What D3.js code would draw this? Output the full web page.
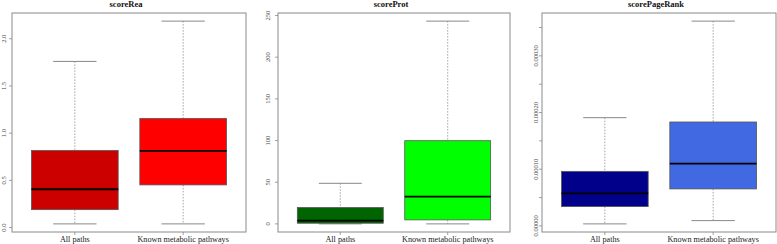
<!DOCTYPE html>
<html><head><meta charset="utf-8">
<script src="https://cdn.jsdelivr.net/npm/d3@7"></script>
<style>body{margin:0;background:#fff}svg{display:block}</style>
</head><body>
<svg id="c" width="777" height="244"></svg>
<script>
// ---- data ----
const categories = ["All paths", "Known metabolic pathways"];
const titles = ["scoreRea", "scoreProt", "scorePageRank"];
// [whiskerLow, q1, median, q3, whiskerHigh]
const scoreRea = [
  [0.039, 0.19, 0.406, 0.816, 1.76],
  [0.039, 0.452, 0.813, 1.155, 2.187]
];
const scoreProt = [
  [0.0, 0.8, 4.0, 19.6, 48.7],
  [0.0, 4.8, 32.8, 99.8, 243.3]
];
const scorePageRank = [
  [0.0000035, 0.000034, 0.0000575, 0.0000962, 0.0001909],
  [0.0000093, 0.0000652, 0.0001098, 0.0001833, 0.0003613]
];
const reaTicks = [0, 0.5, 1.0, 1.5, 2.0];
const reaLabels = ["0.0", "0.5", "1.0", "1.5", "2.0"];
const protTicks = [0, 50, 100, 150, 200, 250];
const protLabels = ["0", "50", "100", "150", "200", "250"];
const prTicks = [0, 0.00005, 0.0001, 0.00015, 0.0002, 0.00025, 0.0003, 0.00035];
const prLabels = ["0.00000", "", "0.00010", "", "0.00020", "", "0.00030", ""];
const colors = [["#cd0000", "#ff0000"], ["#006400", "#00ff00"], ["#00008b", "#4169e1"]];

const panels = [
  {title: titles[0], data: scoreRea, ticks: reaTicks, labels: reaLabels, col: colors[0], x0: 12, x1: 246, lx: 4},
  {title: titles[1], data: scoreProt, ticks: protTicks, labels: protLabels, col: colors[1], x0: 278, x1: 510, lx: 268},
  {title: titles[2], data: scorePageRank, ticks: prTicks, labels: prLabels, col: colors[2], x0: 542, x1: 776, lx: 536}
];
const yTop = 13, yBottom = 232;
const svg = d3.select("#c");
const font = "'Liberation Serif','Times New Roman',serif";

panels.forEach(p => {
  const lo = d3.min(p.data, d => d[0]), hi = d3.max(p.data, d => d[4]);
  const pad = (hi - lo) * 0.04;
  const y = d3.scaleLinear().domain([lo - pad, hi + pad]).range([yBottom, yTop]);
  const x = d3.scaleLinear().domain([0.42, 2.58]).range([p.x0, p.x1]);
  const g = svg.append("g");

  // frame
  g.append("rect").attr("x", p.x0).attr("y", yTop).attr("width", p.x1 - p.x0).attr("height", yBottom - yTop)
    .attr("fill", "none").attr("stroke", "#8a8a8a").attr("stroke-width", 1);

  // title
  g.append("text").attr("x", (p.x0 + p.x1) / 2 - 3).attr("y", 7).attr("text-anchor", "middle")
    .attr("font-family", font).attr("font-weight", "bold").attr("font-size", 8.5).attr("fill", "#111").text(p.title);

  // y axis
  p.ticks.forEach((t, i) => {
    g.append("line").attr("x1", p.x0 - 3).attr("x2", p.x0).attr("y1", y(t)).attr("y2", y(t))
      .attr("stroke", "#8a8a8a").attr("stroke-width", 0.8);
    if (p.labels[i]) {
      g.append("text").attr("transform", `translate(${p.lx + 2},${y(t)}) rotate(-90)`)
        .attr("text-anchor", "middle").attr("font-family", font).attr("font-size", 6.5).attr("fill", "#444")
        .text(p.labels[i]);
    }
  });

  // boxes
  p.data.forEach((d, i) => {
    const cx = x(i + 1), bw = 0.8 * (x(2) - x(1)), cw = 0.4 * (x(2) - x(1));
    g.append("line").attr("x1", cx).attr("x2", cx).attr("y1", y(d[4])).attr("y2", y(d[3]))
      .attr("stroke", "#999").attr("stroke-width", 0.9).attr("stroke-dasharray", "1.5,1.5");
    g.append("line").attr("x1", cx).attr("x2", cx).attr("y1", y(d[1])).attr("y2", y(d[0]))
      .attr("stroke", "#999").attr("stroke-width", 0.9).attr("stroke-dasharray", "1.5,1.5");
    [d[0], d[4]].forEach(v => g.append("line").attr("x1", cx - cw / 2).attr("x2", cx + cw / 2)
      .attr("y1", y(v)).attr("y2", y(v)).attr("stroke", "#888").attr("stroke-width", 1));
    g.append("rect").attr("x", cx - bw / 2).attr("y", y(d[3])).attr("width", bw).attr("height", y(d[1]) - y(d[3]))
      .attr("fill", p.col[i]).attr("stroke", "#555").attr("stroke-width", 0.8);
    g.append("line").attr("x1", cx - bw / 2).attr("x2", cx + bw / 2).attr("y1", y(d[2])).attr("y2", y(d[2]))
      .attr("stroke", "#000").attr("stroke-width", 1.8);
    g.append("line").attr("x1", cx).attr("x2", cx).attr("y1", yBottom).attr("y2", yBottom + 3)
      .attr("stroke", "#8a8a8a").attr("stroke-width", 0.8);
    g.append("text").attr("x", cx).attr("y", 242).attr("text-anchor", "middle")
      .attr("font-family", font).attr("font-size", 8.2).attr("fill", "#222").text(categories[i]);
  });
});
</script>
</body></html>
